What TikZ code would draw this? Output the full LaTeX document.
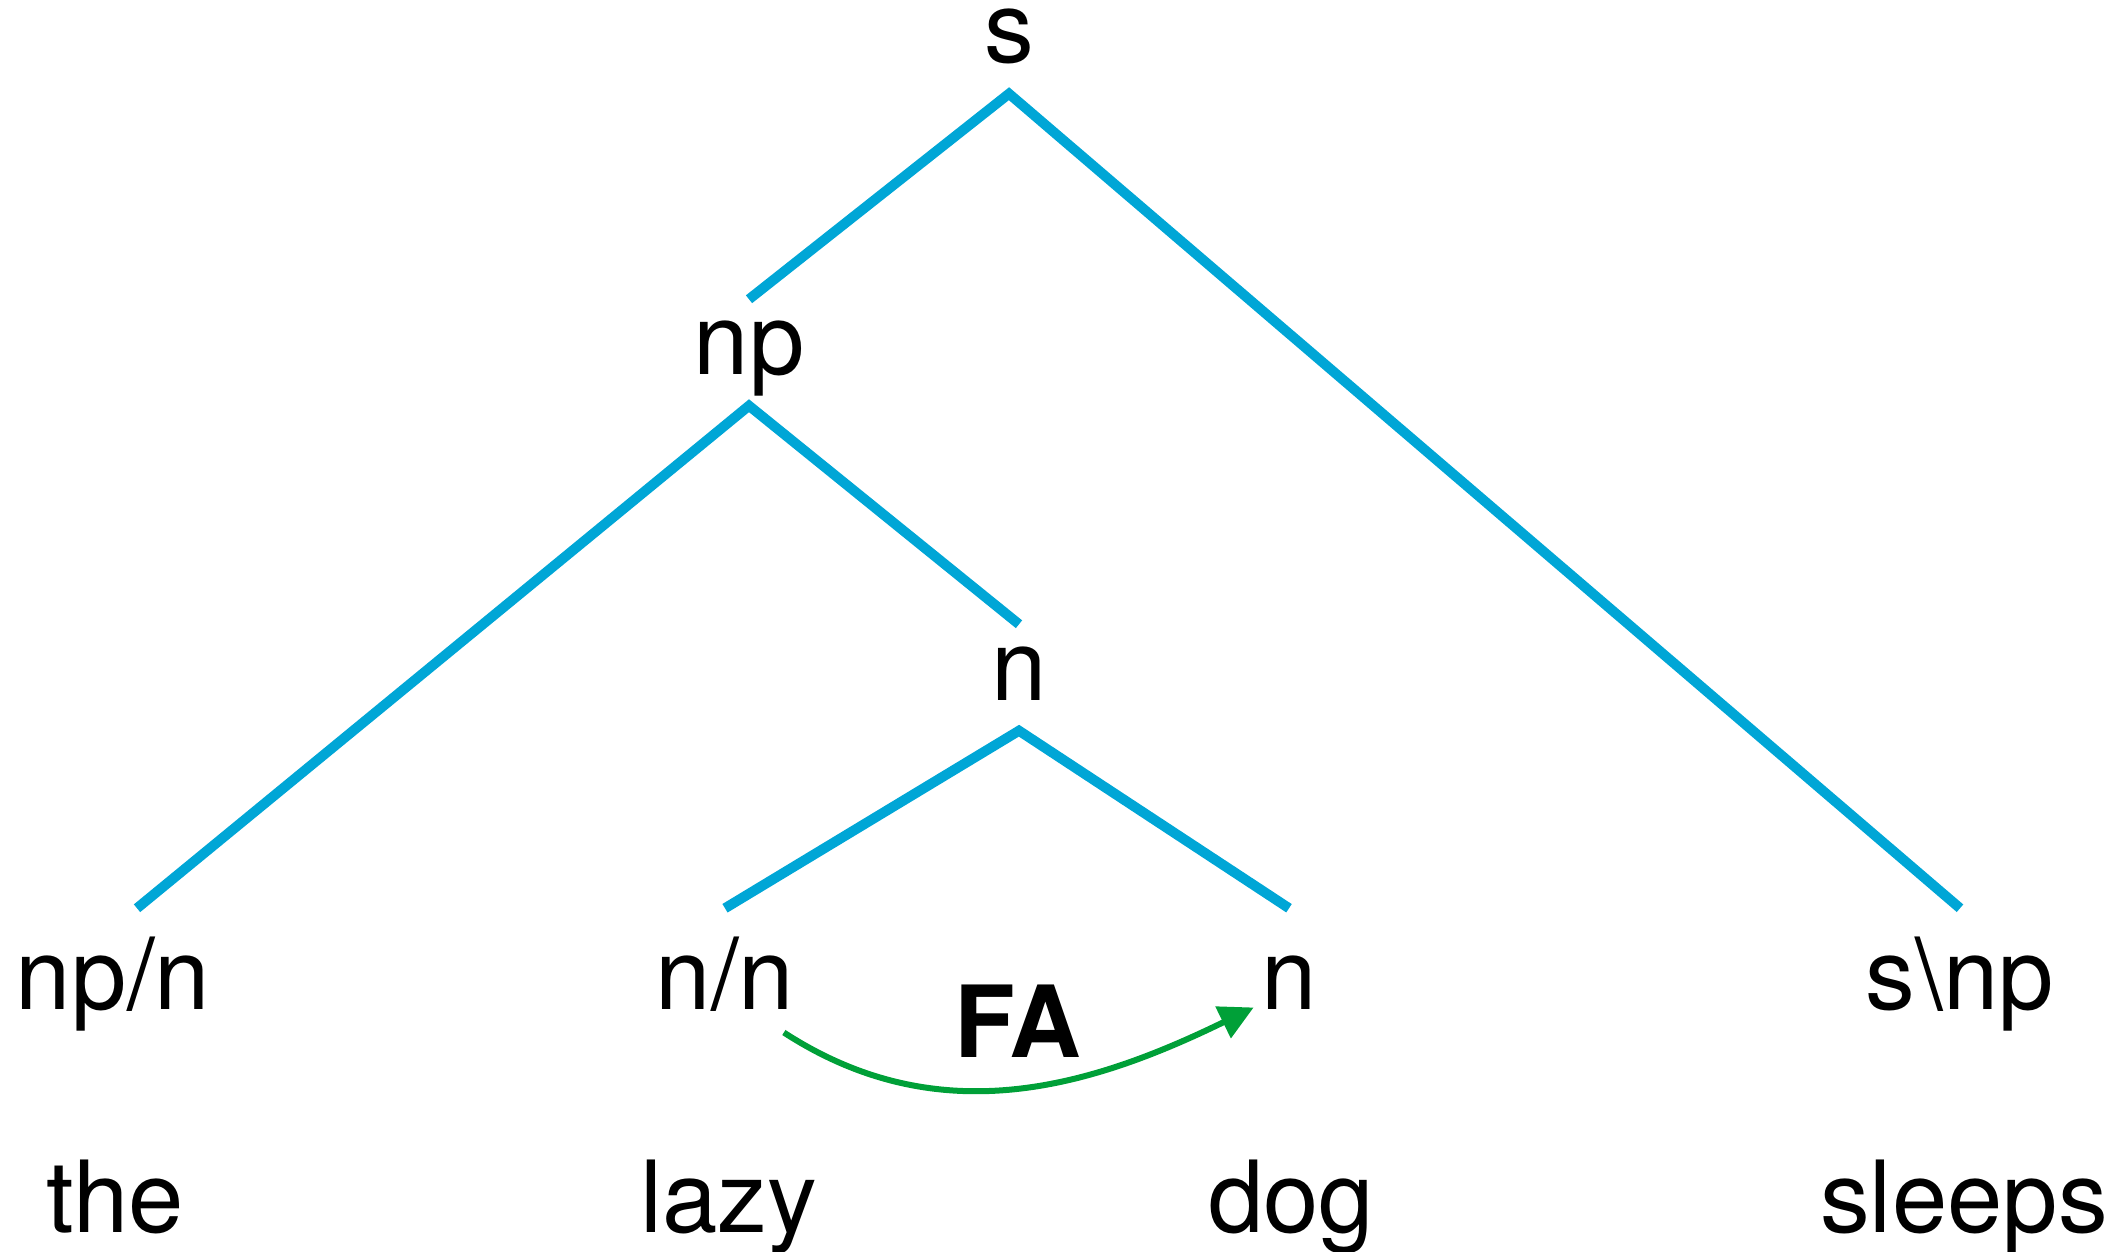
\documentclass[tikz,border=0pt]{standalone}
\usepackage{fontspec}
\setmainfont{TeX Gyre Heros}
\usetikzlibrary{arrows.meta}
\definecolor{treeblue}{RGB}{0, 166, 214}
\definecolor{rulegreen}{RGB}{0, 160, 56}

\begin{document}
\begin{tikzpicture}[
            x=0.01cm, y=0.01cm,
            cat/.style={anchor=base, font=\fontsize{28.3}{34}\selectfont, text height=0.6cm, text depth=0.15cm, inner xsep=0pt, inner ysep=0.15cm},
            leaf/.style={cat, inner ysep=0.4cm},
            word/.style={anchor=base, font=\fontsize{28.3}{34}\selectfont, inner sep=0pt},
            branch/.style={draw=treeblue, line width=0.1cm},
            faarrow/.style={-{Triangle[length=0.34cm, width=0.34cm]}, draw=rulegreen, line width=0.06cm}
        ]
            \useasboundingbox (0,0) rectangle (2124,-1252);

            % categories
            \node[cat, text height=0.5cm, text depth=0.2cm, inner ysep=0.1cm] (s) at (1009,-63) {s};
            \node[cat] (np) at (749,-375) {np};
            \node[cat] (n) at (1019,-700) {n};
            \node[leaf] (npn) at (113,-1009) {np/n};
            \node[leaf] (nn) at (725,-1009) {n/n};
            \node[leaf] (nleaf) at (1289,-1009) {n};
            \node[leaf] (snp) at (1960,-1009) {s\textbackslash np};

            % words
            \node[word] (the) at (115,-1232) {the};
            \node[word] (lazy) at (729,-1232) {lazy};
            \node[word] (dog) at (1291,-1232) {dog};
            \node[word] (sleeps) at (1964,-1232) {sleeps};

            \draw[branch] (np.north) -- (s.south) -- (snp.north);
            \draw[branch] ([xshift=0.24cm]npn.north) -- (np.south) -- (n.north);
            \draw[branch] (nn.north) -- (n.south) -- (nleaf.north);

            % forward application
            \draw[faarrow] ([xshift=-0.11cm, yshift=-0.46cm]nn.east) to[out=-33, in=206] ([xshift=-0.07cm, yshift=-0.21cm]nleaf.west);
            \node[word, font=\fontsize{28.3}{34}\selectfont\bfseries] (fa) at (1018,-1057) {FA};
        \end{tikzpicture}
\end{document}
